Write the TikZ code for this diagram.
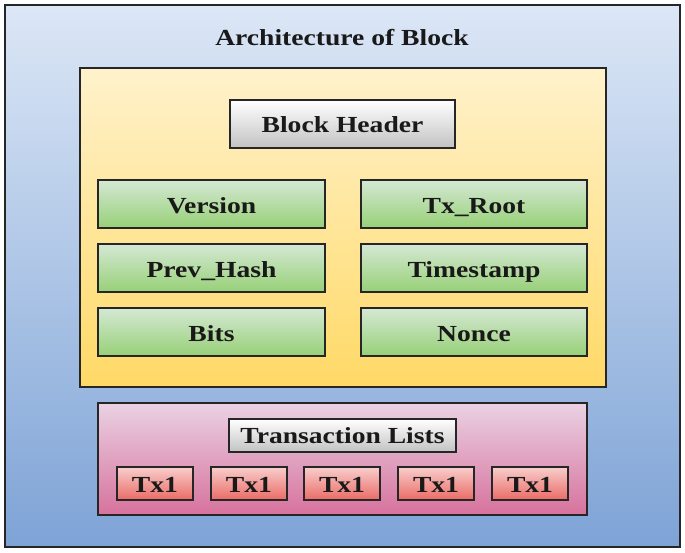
\documentclass[tikz,border=0pt]{standalone}
\usepackage{fontspec}
\setmainfont{Liberation Serif}[FakeStretch=1.2]
\begin{document}
\begin{tikzpicture}[x=1pt,y=-1pt,
  box/.style={draw=black!85,line width=1.2pt},
  outerbox/.style={box,top color=bluetop,bottom color=bluebot},
  hdrbox/.style={box,top color=yeltop,bottom color=yelbot},
  graybox/.style={box,top color=white,bottom color=graybot},
  greenbox/.style={box,top color=greentop,bottom color=greenbot},
  pinkbox/.style={box,top color=pinktop,bottom color=pinkbot},
  redbox/.style={box,top color=redtop,bottom color=redbot},
  lbl/.style={font=\bfseries\fontsize{23}{26}\selectfont,text=black!90,
    text height=14pt,text depth=4pt,inner sep=0pt}
]
\definecolor{bluetop}{HTML}{DCE7F6}
\definecolor{bluebot}{HTML}{7EA3D6}
\definecolor{yeltop}{HTML}{FFF2CC}
\definecolor{yelbot}{HTML}{FFD966}
\definecolor{graybot}{HTML}{C2C2C2}
\definecolor{greentop}{HTML}{D5E8D4}
\definecolor{greenbot}{HTML}{97D077}
\definecolor{pinktop}{HTML}{EAD2E3}
\definecolor{pinkbot}{HTML}{D7729D}
\definecolor{redtop}{HTML}{F8CECC}
\definecolor{redbot}{HTML}{EA6B66}
\useasboundingbox (0,0) rectangle (685,552);
\path[outerbox] (5,5) rectangle (680,547);
\node[lbl] (title) at (342,40) {Architecture of Block};
\path[hdrbox] (80,68) rectangle (606,387);
\path[graybox] (230,100) rectangle (455,148);
\node[lbl] (hdr) at (342.5,127.5) {Block Header};
\path[greenbox] (98,180) rectangle (325,228);
\node[lbl] (ver) at (211.5,208) {Version};
\path[greenbox] (361,180) rectangle (587,228);
\node[lbl] (root) at (474,208) {Tx\_Root};
\path[greenbox] (98,244) rectangle (325,292);
\node[lbl] (prev) at (211.5,272) {Prev\_Hash};
\path[greenbox] (361,244) rectangle (587,292);
\node[lbl] (time) at (474,272) {Timestamp};
\path[greenbox] (98,308) rectangle (325,356);
\node[lbl] (bits) at (211.5,336) {Bits};
\path[greenbox] (361,308) rectangle (587,356);
\node[lbl] (nonce) at (474,336) {Nonce};
\path[pinkbox] (98,403) rectangle (587,515);
\path[graybox] (229,419) rectangle (456,452);
\node[lbl] (tl) at (342.5,438) {Transaction Lists};
\foreach \x/\n in {117/a,211/b,304/c,398/d,492/e}{
  \path[redbox] (\x,467) rectangle (\x+76,500);
  \node[lbl] (tx\n) at (\x+38,487) {Tx1};
}
\end{tikzpicture}
\end{document}
